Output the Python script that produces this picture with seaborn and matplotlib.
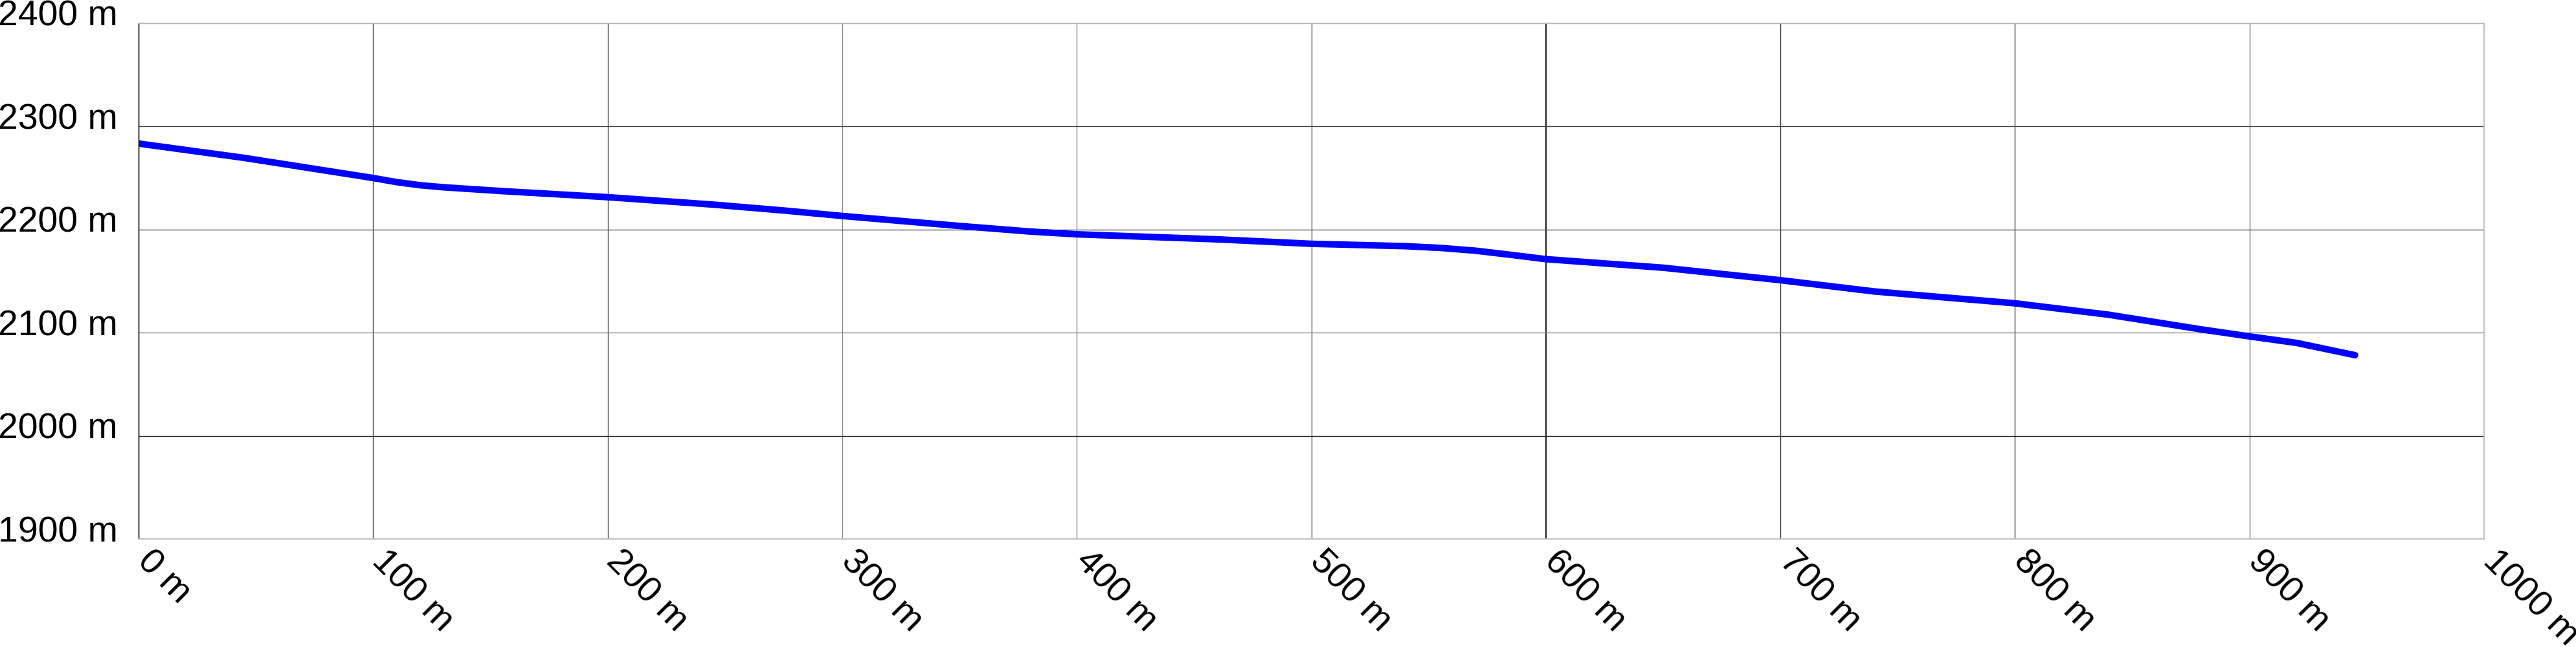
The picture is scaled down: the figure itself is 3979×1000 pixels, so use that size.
import matplotlib
matplotlib.use("Agg")
import matplotlib.pyplot as plt
import matplotlib.transforms as mtransforms
import seaborn as sns
import pandas as pd

# Elevation profile
distance = [0, 45, 100, 110, 120, 130, 155, 200, 245, 275, 300, 350, 380, 400,
            460, 500, 540, 555, 570, 585, 600, 650, 700, 740, 770, 800, 840,
            880, 900, 920, 945]
elevation = [2283.4, 2269.5, 2250, 2246, 2243, 2241, 2237.3, 2231.4, 2224.2, 2218.5,
             2213.2, 2203.5, 2198.1, 2195.4, 2190.5, 2186.2, 2183.9, 2182.2, 2179.5,
             2175.5, 2171.3, 2163, 2150.9, 2140, 2134.2, 2128.5, 2117.4, 2103,
             2096.4, 2090.1, 2078.2]

x_ticks = [0, 100, 200, 300, 400, 500, 600, 700, 800, 900, 1000]
y_ticks = [1900, 2000, 2100, 2200, 2300, 2400]
x_labels = [f"{v} m" for v in x_ticks]
y_labels = [f"{v} m" for v in y_ticks]

profile = pd.DataFrame({"distance": distance, "elevation": elevation})

sns.set_style("white")
plt.rcParams["font.family"] = ["Liberation Sans", "DejaVu Sans"]

fig = plt.figure(figsize=(39.79, 10), dpi=100)
ax = fig.add_axes([214 / 3979, 1 - 833 / 1000, (3837 - 214) / 3979, (833 - 36) / 1000])

sns.lineplot(data=profile, x="distance", y="elevation", color="#0000ff",
             linewidth=7.3, solid_capstyle="round", solid_joinstyle="round", ax=ax)

ax.set_xlim(0, 1000)
ax.set_ylim(1900, 2400)
ax.set_xlabel("")
ax.set_ylabel("")

ax.set_xticks(x_ticks)
ax.set_yticks(y_ticks)
ax.tick_params(axis="x", length=0, pad=26.6)
ax.tick_params(axis="y", length=0, pad=23)
ax.set_xticklabels(x_labels, fontsize=40, rotation=-45, ha="left",
                   va="baseline", rotation_mode="anchor", color="black")
ax.set_yticklabels(y_labels, fontsize=40, color="black")

for lbl in ax.get_yticklabels():
    lbl.set_va("baseline")
    lbl.set_transform(lbl.get_transform() +
                      mtransforms.ScaledTranslation(0, -4 / 100, fig.dpi_scale_trans))
for lbl in ax.get_xticklabels():
    lbl.set_transform(lbl.get_transform() +
                      mtransforms.ScaledTranslation(-4 / 100, 0, fig.dpi_scale_trans))

# grid, with the uneven greys of the original
ax.set_axisbelow(True)
ax.grid(True, color="#666666", linewidth=1.0)
vcolors = ["#000000", "#444444", "#555555", "#888888", "#888888", "#555555",
           "#222222", "#333333", "#444444", "#777777", "#bbbbbb"]
hcolors = ["#bbbbbb", "#222222", "#888888", "#555555", "#444444", "#aaaaaa"]
for gl, c in zip(ax.xaxis.get_gridlines(), vcolors):
    gl.set_color(c)
for gl, c in zip(ax.yaxis.get_gridlines(), hcolors):
    gl.set_color(c)
ax.xaxis.get_gridlines()[6].set_linewidth(1.6)

for side in ["top", "right", "bottom"]:
    ax.spines[side].set_color("#bbbbbb")
    ax.spines[side].set_linewidth(1.3)
ax.spines["left"].set_color("#000000")
ax.spines["left"].set_linewidth(1.0)

fig.savefig("out.png", dpi=100)
